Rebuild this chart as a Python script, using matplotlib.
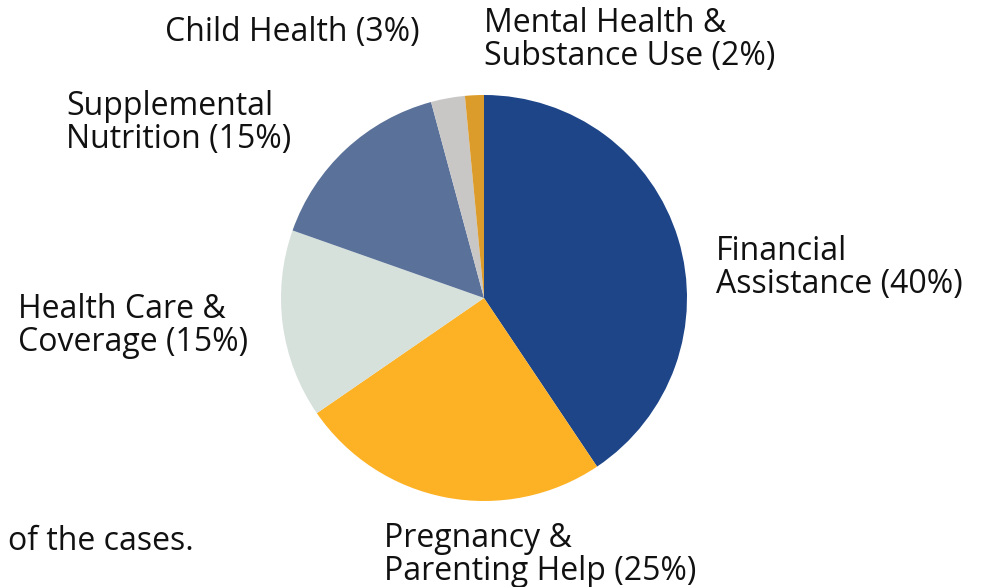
import matplotlib
matplotlib.use('Agg')
import matplotlib.pyplot as plt

plt.rcParams['font.family'] = ['Open Sans', 'DejaVu Sans']

# === Data ===
categories = ['Financial Assistance', 'Pregnancy & Parenting Help', 'Health Care & Coverage',
              'Supplemental Nutrition', 'Child Health', 'Mental Health & Substance Use']
shares = [40.6, 24.8, 15.0, 15.4, 2.7, 1.5]
label_pct = [40, 25, 15, 15, 3, 2]
colors = ['#1d4588', '#fdb124', '#d7e1dc', '#5a7199', '#c9c6c6', '#dc9c2c']

label_text = ['Financial\nAssistance ({}%)', 'Pregnancy &\nParenting Help ({}%)',
              'Health Care &\nCoverage ({}%)', 'Supplemental\nNutrition ({}%)',
              'Child Health ({}%)', 'Mental Health &\nSubstance Use ({}%)']
# label anchor (left x, vertical centre y) in pixels from top-left
label_pos = [(716, 268), (384, 555), (18, 326), (66, 123), (165, 33), (484, 40)]

W, H = 983, 587
fig = plt.figure(figsize=(W/100, H/100), dpi=100)
ax = fig.add_axes([0, 0, 1, 1])

ax.pie(shares, colors=colors, startangle=90, counterclock=False,
       center=(484, H - 298), radius=203, wedgeprops=dict(linewidth=0))

# pie() resets the limits, so set them afterwards
ax.set_xlim(0, W); ax.set_ylim(0, H)
ax.set_aspect('equal')
ax.axis('off')

for txt, p, (x, y) in zip(label_text, label_pct, label_pos):
    ax.text(x, H - y, txt.format(p), ha='left', va='center', fontsize=23,
            color='#111111', linespacing=1.0)

ax.text(8, H - 542, 'of the cases.', ha='left', va='center', fontsize=23, color='#111111')

fig.savefig('out.png', dpi=100)
